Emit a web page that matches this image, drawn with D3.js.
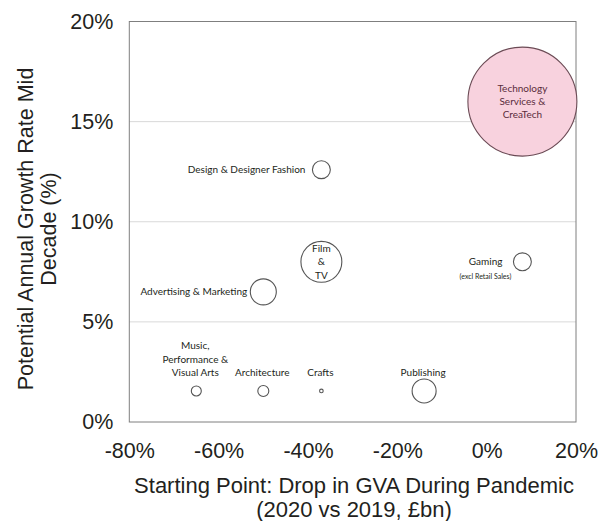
<!DOCTYPE html>
<html>
<head>
<meta charset="utf-8">
<script src="https://cdn.jsdelivr.net/npm/d3@7"></script>
<style>
  body { margin: 0; background: #fff; }
  .tick text { font-family: "Liberation Sans", Arial, sans-serif; }
</style>
</head>
<body>
<svg id="chart"></svg>
<script>
// sectors, drop in GVA (x, %), growth rate (y, %), bubble size (relative)
var sectors = ["Technology Services & CreaTech", "Design & Designer Fashion", "Film & TV", "Gaming",
  "Advertising & Marketing", "Music, Performance & Visual Arts", "Architecture", "Crafts", "Publishing"];
var gvaDrop = [8, -37, -37, 8, -50, -65, -50, -37, -14];
var growth = [16, 12.6, 8, 8, 6.5, 1.55, 1.55, 1.55, 1.55];
var bubbleSize = [100, 2.7, 14.1, 2.7, 5.7, 0.84, 1.02, 0.11, 4.85];
var xTicks = [-80, -60, -40, -20, 0, 20];
var yTicks = [0, 5, 10, 15, 20];

// label text lines and where they sit
var labelLines = [
  ["Technology", "Services &", "CreaTech"],
  ["Design & Designer Fashion"],
  ["Film", "&", "TV"],
  ["Gaming"],
  ["Advertising & Marketing"],
  ["Music,", "Performance &", "Visual Arts"],
  ["Architecture"],
  ["Crafts"],
  ["Publishing"]
];
var labelPlace = ["inside", "left", "inside", "left", "left", "above", "above", "above", "above"];
var labelGap = [0, 7, 0, 11, 3, 0, 0, 0, 0];

var width = 600, height = 521;
var margin = { top: 21.5, right: 24, bottom: 99, left: 129.3 };
var w = width - margin.left - margin.right;
var h = height - margin.top - margin.bottom;

var svg = d3.select("#chart").attr("width", width).attr("height", height);
var g = svg.append("g").attr("transform", "translate(" + margin.left + "," + margin.top + ")");

var x = d3.scaleLinear().domain([-80, 20]).range([0, w]);
var y = d3.scaleLinear().domain([0, 20]).range([h, 0]);
var r = d3.scaleSqrt().domain([0, 100]).range([0, 54.5]);

var textCol = "#231f20";

// gridlines
g.selectAll("line.grid").data(yTicks.filter(function (d) { return d > 0 && d < 20; }))
  .enter().append("line").attr("class", "grid")
  .attr("x1", 0).attr("x2", w)
  .attr("y1", function (d) { return y(d); }).attr("y2", function (d) { return y(d); })
  .attr("stroke", "#d9d9d9").attr("stroke-width", 1);

// frame
g.append("rect").attr("x", 0).attr("y", 0).attr("width", w).attr("height", h)
  .attr("fill", "none").attr("stroke", "#7f7f7f").attr("stroke-width", 1);

// axes
var xAxis = d3.axisBottom(x).tickValues(xTicks).tickSize(0).tickPadding(21)
  .tickFormat(function (d) { return d + "%"; });
var yAxis = d3.axisLeft(y).tickValues(yTicks).tickSize(0).tickPadding(16)
  .tickFormat(function (d) { return d + "%"; });

var gx = g.append("g").attr("transform", "translate(0," + h + ")").call(xAxis);
var gy = g.append("g").call(yAxis);
[gx, gy].forEach(function (a) {
  a.select(".domain").remove();
  a.selectAll("text").attr("font-size", 21.5).attr("fill", textCol);
});

// bubbles
var data = sectors.map(function (s, i) {
  return { name: s, x: gvaDrop[i], y: growth[i], size: bubbleSize[i], lines: labelLines[i],
    place: labelPlace[i], gap: labelGap[i] };
});

g.selectAll("circle.bubble").data(data).enter().append("circle").attr("class", "bubble")
  .attr("cx", function (d) { return x(d.x); })
  .attr("cy", function (d) { return y(d.y); })
  .attr("r", function (d) { return r(d.size); })
  .attr("fill", function (d, i) { return i === 0 ? "#f8d2de" : "none"; })
  .attr("stroke", function (d, i) { return i === 0 ? "#6b4b55" : "#555"; })
  .attr("stroke-width", 1.1);

// labels
var lh = 13.3;
data.forEach(function (d, i) {
  var cx = x(d.x), cy = y(d.y), rr = r(d.size);
  var t = g.append("text").attr("font-family", "Lato, 'Open Sans', sans-serif")
    .attr("font-size", 10).attr("fill", i === 0 ? "#5a2d3c" : textCol);
  var n = d.lines.length, ax, ay, anchor;
  if (d.place === "inside") { ax = cx; ay = cy - (n - 1) * lh / 2; anchor = "middle"; }
  else if (d.place === "left") { ax = cx - rr - d.gap; ay = cy; anchor = "end"; }
  else { ax = cx - 1; ay = cy - 18.5 - (n - 1) * lh; anchor = "middle"; }
  t.attr("text-anchor", anchor);
  d.lines.forEach(function (l, k) {
    t.append("tspan").attr("x", ax).attr("y", ay + k * lh).attr("dy", "0.35em").text(l);
  });
  if (d.name === "Gaming") {
    g.append("text").attr("font-family", "Lato, 'Open Sans', sans-serif")
      .attr("font-size", 7).attr("fill", textCol).attr("text-anchor", "middle")
      .attr("x", ax - 17).attr("y", cy + 15).attr("dy", "0.35em").text("(excl Retail Sales)");
  }
});

// axis titles
var title = svg.append("text").attr("font-family", "'Liberation Sans', Arial, sans-serif")
  .attr("font-size", 22).attr("fill", textCol).attr("text-anchor", "middle");
title.append("tspan").attr("x", 354).attr("y", 493).text("Starting Point: Drop in GVA During Pandemic");
title.append("tspan").attr("x", 354).attr("y", 517).text("(2020 vs 2019, £bn)");

var ytitle = svg.append("text").attr("font-family", "'Liberation Sans', Arial, sans-serif")
  .attr("font-size", 21.5).attr("fill", textCol).attr("text-anchor", "middle")
  .attr("transform", "translate(0,229) rotate(-90)");
ytitle.append("tspan").attr("x", 0).attr("y", 33).text("Potential Annual Growth Rate Mid");
ytitle.append("tspan").attr("x", 0).attr("y", 56).text("Decade (%)");
</script>
</body>
</html>
